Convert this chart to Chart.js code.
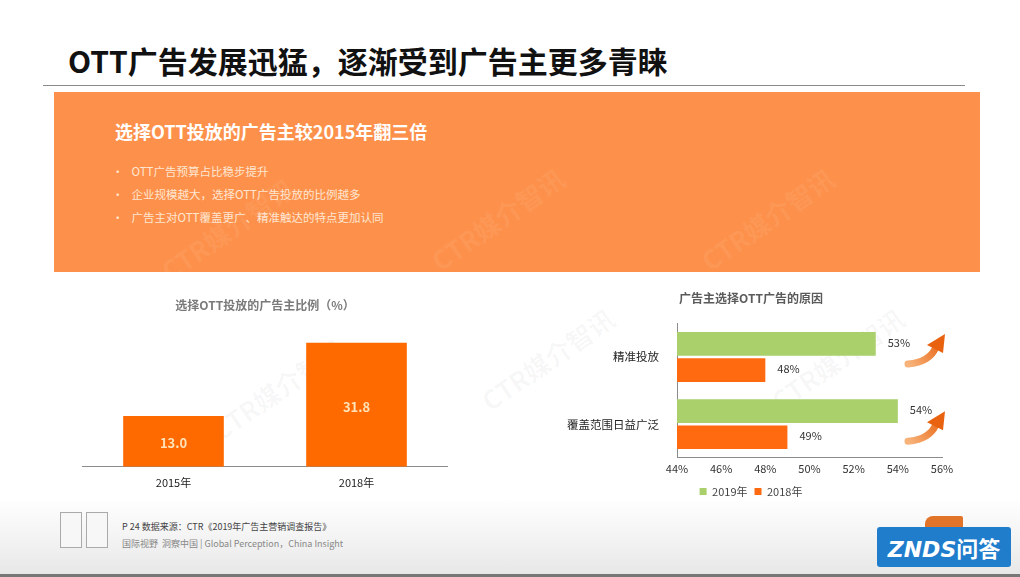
<!DOCTYPE html>
<html>
<head>
<meta charset="utf-8">
<script src="https://cdn.jsdelivr.net/npm/chart.js@4"></script>
<style>
  body { margin: 0; width: 1020px; height: 577px; overflow: hidden; background: #fff;
         font-family: "Noto Sans CJK SC", "Noto Sans", sans-serif; position: relative; }
  .abs { position: absolute; }
  #title { left: 68px; top: 38px; font-size: 30px; font-weight: bold; color: #111; }
  #rule { left: 43px; top: 85px; width: 922px; height: 1px; background: #8a8a8a; }
  #banner { left: 54px; top: 92px; width: 926px; height: 180px; background: #fd914b; }
  #banner h2 { position: absolute; left: 61px; top: 26px; margin: 0; font-size: 18px; color: #fff; font-weight: bold; }
  #banner ul { position: absolute; left: 58px; top: 68px; margin: 0; padding: 0; list-style: none; }
  #banner li { font-size: 11.5px; color: #ffe6d2; line-height: 23px; }
  #banner li:before { content: "•"; margin-right: 8px; }
  #footer { left: 0; top: 498px; width: 1020px; height: 79px;
            background: linear-gradient(180deg, #ffffff 0%, #f1f1f1 60%, #e6e6e6 100%); }
  #bottomline { left: 0; top: 574px; width: 1020px; height: 3px; background: #777; }
  .logo { top: 512px; width: 20px; height: 34px; border: 1px solid #aaa; background: #f7f7f7; }
  #src { left: 122px; top: 520px; font-size: 9px; color: #444; }
  #slogan { left: 122px; top: 537px; font-size: 9px; color: #888; }
  #znds { left: 877px; top: 527px; width: 134px; height: 40px; background: #1f7dcc; border-radius: 3px;
          color: #fff; font: italic bold 22px "DejaVu Sans", sans-serif; text-align: center; line-height: 40px; }
  #znds span { font-family: "Noto Sans CJK SC"; font-style: normal; }
  #zndsTop { left: 925px; top: 516px; width: 38px; height: 11px; background: #e2742a; border-radius: 8px 2px 0 0; }
  .wm { color: rgba(0,0,0,0.035); font-size: 26px; font-weight: bold; transform: rotate(-35deg); white-space: nowrap; }
  .wmo { color: rgba(255,255,255,0.07); }
  #leftBox { left: 82px; top: 290px; width: 366px; height: 200px; }
  #rightBox { left: 560px; top: 283px; width: 412px; height: 224px; }
</style>
</head>
<body>
<div id="footer" class="abs"></div>
<div id="bottomline" class="abs"></div>
<div id="title" class="abs">OTT广告发展迅猛，逐渐受到广告主更多青睐</div>
<div id="rule" class="abs"></div>
<div id="banner" class="abs">
  <h2>选择OTT投放的广告主较2015年翻三倍</h2>
  <ul>
    <li>OTT广告预算占比稳步提升</li>
    <li>企业规模越大，选择OTT广告投放的比例越多</li>
    <li>广告主对OTT覆盖更广、精准触达的特点更加认同</li>
  </ul>
</div>
<div class="abs wm wmo" style="left:150px;top:210px;">CTR媒介智讯</div>
<div class="abs wm wmo" style="left:420px;top:200px;">CTR媒介智讯</div>
<div class="abs wm wmo" style="left:690px;top:200px;">CTR媒介智讯</div>
<div class="abs wm" style="left:200px;top:370px;">CTR媒介智讯</div>
<div class="abs wm" style="left:470px;top:340px;">CTR媒介智讯</div>
<div class="abs wm" style="left:760px;top:340px;">CTR媒介智讯</div>

<div id="leftBox" class="abs"><canvas id="leftChart"></canvas></div>
<div id="rightBox" class="abs"><canvas id="rightChart"></canvas></div>

<div class="abs logo" style="left:60px;"></div>
<div class="abs logo" style="left:86px;"></div>
<div id="src" class="abs">P 24 数据来源：CTR《2019年广告主营销调查报告》</div>
<div id="slogan" class="abs">国际视野&nbsp; 洞察中国 | Global Perception，China Insight</div>
<div id="zndsTop" class="abs"></div>
<div id="znds" class="abs">ZNDS<span>问答</span></div>

<script>
// left chart data
const shareYears = ['2015年', '2018年'];
const shareValues = [13.0, 31.8];

// right chart data
const reasonCats = ['精准投放', '覆盖范围日益广泛'];
const reasons2019 = [53, 54];
const reasons2018 = [48, 49];
const pctTicks = [44, 46, 48, 50, 52, 54, 56];

const FONT = '"Noto Sans CJK SC", "Noto Sans", sans-serif';

// draws value labels for bars
const valueLabels = {
    id: 'valueLabels',
    afterDatasetsDraw(chart, args, opts) {
        const ctx = chart.ctx;
        ctx.save();
        ctx.font = opts.font;
        ctx.fillStyle = opts.color;
        chart.data.datasets.forEach((ds, i) => {
            const meta = chart.getDatasetMeta(i);
            meta.data.forEach((bar, j) => {
                const v = ds.data[j];
                if (opts.inside) {
                    ctx.textAlign = 'center';
                    ctx.textBaseline = 'middle';
                    ctx.fillText(v.toFixed(1), bar.x, (bar.y + bar.base) / 2 + 2);
                } else {
                    ctx.textAlign = 'left';
                    ctx.textBaseline = 'middle';
                    ctx.fillText(v + '%', bar.x + 12, bar.y - 1);
                }
            });
        });
        ctx.restore();
    }
};

// curved orange arrows beside each category
const trendArrows = {
    id: 'trendArrows',
    afterDraw(chart) {
        const ctx = chart.ctx;
        const yScale = chart.scales.y;
        ctx.save();
        reasonCats.forEach((c, i) => {
            const cy = yScale.getPixelForValue(i) - 6 + i * 10;
            const cx = chart.chartArea.right - 12;
            const grad = ctx.createLinearGradient(cx - 22, cy + 12, cx + 12, cy - 12);
            grad.addColorStop(0, '#f7b37a');
            grad.addColorStop(1, '#e8620f');
            ctx.strokeStyle = grad;
            ctx.fillStyle = '#e8620f';
            ctx.lineWidth = 7;
            ctx.lineCap = 'round';
            ctx.beginPath();
            ctx.moveTo(cx - 22, cy + 13);
            ctx.quadraticCurveTo(cx, cy + 11, cx + 6, cy - 4);
            ctx.stroke();
            ctx.beginPath();
            ctx.moveTo(cx + 15, cy - 17);
            ctx.lineTo(cx - 3, cy - 6);
            ctx.lineTo(cx + 13, cy + 2);
            ctx.closePath();
            ctx.fill();
        });
        ctx.restore();
    }
};

new Chart(document.getElementById('leftChart'), {
    type: 'bar',
    data: {
        labels: shareYears,
        datasets: [{
            data: shareValues,
            backgroundColor: '#ff6a00',
            barPercentage: 0.55,
            categoryPercentage: 1
        }]
    },
    options: {
        responsive: true,
        maintainAspectRatio: false,
        animation: false,
        layout: { padding: 0 },
        plugins: {
            legend: { display: false },
            tooltip: { enabled: false },
            title: {
                display: true,
                text: '选择OTT投放的广告主比例（%）',
                color: '#7a7a7a',
                font: { size: 12, weight: 'bold', family: FONT },
                padding: { top: 8, bottom: 8 }
            },
            valueLabels: { font: 'bold 13px ' + FONT, color: '#ffe2b8', inside: true }
        },
        scales: {
            x: {
                grid: { display: false },
                border: { color: '#8c8c8c' },
                ticks: { color: '#222', font: { size: 11, family: FONT }, padding: 1 }
            },
            y: { display: false, min: 0, max: 37.5 }
        }
    },
    plugins: [valueLabels]
});

new Chart(document.getElementById('rightChart'), {
    type: 'bar',
    data: {
        labels: reasonCats,
        datasets: [
            { label: '2019年', data: reasons2019, backgroundColor: '#a9d06b',
              barPercentage: 0.9, categoryPercentage: 0.78 },
            { label: '2018年', data: reasons2018, backgroundColor: '#ff6a10',
              barPercentage: 0.9, categoryPercentage: 0.78 }
        ]
    },
    options: {
        indexAxis: 'y',
        responsive: true,
        maintainAspectRatio: false,
        animation: false,
        layout: { padding: { right: 30 } },
        plugins: {
            title: {
                display: true,
                text: '广告主选择OTT广告的原因',
                color: '#5a5a5a',
                font: { size: 12, weight: 'bold', family: FONT },
                padding: { top: 8, bottom: 18 }
            },
            legend: {
                position: 'bottom',
                labels: {
                    usePointStyle: true,
                    pointStyle: 'rect',
                    boxWidth: 7,
                    boxHeight: 7,
                    color: '#444',
                    font: { size: 11, family: FONT },
                    padding: 7
                }
            },
            tooltip: { enabled: false },
            valueLabels: { font: '11px ' + FONT, color: '#333', inside: false }
        },
        scales: {
            x: {
                min: 44,
                max: 56,
                grid: { display: false, drawTicks: false },
                border: { color: '#8c8c8c' },
                afterBuildTicks: s => { s.ticks = pctTicks.map(v => ({ value: v })); },
                ticks: {
                    color: '#333',
                    font: { size: 11, family: FONT },
                    padding: 4,
                    callback: v => v + '%'
                }
            },
            y: {
                grid: { display: false },
                border: { color: '#8c8c8c' },
                afterFit: s => { s.width = 117; },
                ticks: { color: '#222', font: { size: 11.5, family: FONT }, padding: 10 }
            }
        }
    },
    plugins: [valueLabels, trendArrows]
});
</script>
</body>
</html>
